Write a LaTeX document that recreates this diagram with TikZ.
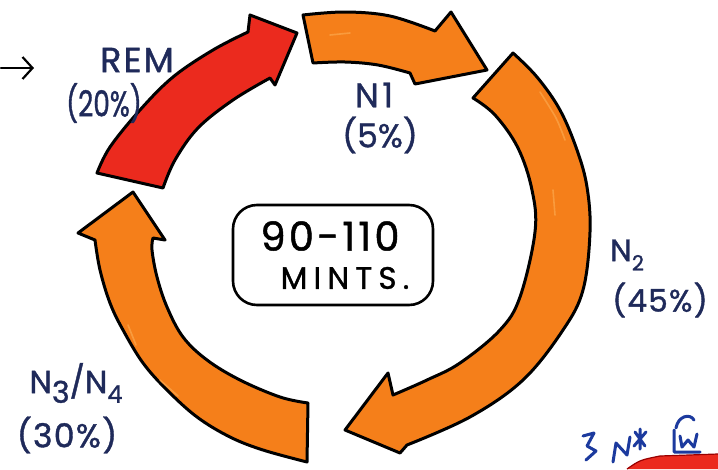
\documentclass[tikz,border=0pt]{standalone}
\usepackage{fontspec}
\setmainfont{Poppins}[FakeBold=1.2]
\usetikzlibrary{arrows.meta}

\definecolor{ink}{HTML}{1F2A5A}
\definecolor{pen}{HTML}{1C3A9E}
\definecolor{remred}{HTML}{EB2A1E}
\definecolor{stage}{HTML}{F57F1A}
\definecolor{glow}{HTML}{FBA54A}

\newcommand\handfont[1]{\fontsize{#1}{#1}\selectfont}
\newcommand\lowfig[2]{\raisebox{-0.3em}{\handfont{#1}#2}}

\tikzset{
  band/.style={draw=black, line width=3pt, line join=round, line cap=round},
  streak/.style={draw=glow, line width=1.6pt, line cap=round, opacity=0.75},
  lbl/.style={text=ink, inner sep=0pt},
  boxtext/.style={text=black, inner sep=0pt},
  scribble/.style={draw=pen, line width=3pt, line cap=round, line join=round},
}

\begin{document}
\begin{tikzpicture}[x=1pt,y=-1pt]
\useasboundingbox (0,0) rectangle (718,469);
\fill[white] (0,0) rectangle (718,469);

% REM stage (red)
\draw[band, fill=remred]
  plot[smooth,tension=0.6] coordinates {(97,173) (110,147) (140,110) (173,77) (213,50) (248,32)}
  -- (250,15) -- (297,33) -- (275,85) -- (270,78)
  -- plot[smooth,tension=0.6] coordinates {(270,78) (233,100) (198,128) (175,160) (163,188)}
  -- cycle;

% N1 stage
\draw[band, fill=stage]
  plot[smooth,tension=0.6] coordinates {(303,15) (345,12) (390,16) (435,31)}
  -- (451,12) -- (487,70) -- (415,84) -- (410,73)
  -- plot[smooth,tension=0.6] coordinates {(410,73) (378,65) (345,62) (313,63)}
  -- cycle;

% N2 stage
\draw[band, fill=stage]
  plot[smooth,tension=0.6] coordinates {(513,53) (537,77) (560,110) (577,150) (587,187) (590,232) (583,290) (563,330) (523,380) (470,417) (407,445)}
  -- (400,453) -- (345,430) -- (388,373) -- (393,395)
  -- plot[smooth,tension=0.6] coordinates {(393,395) (427,380) (460,363) (500,330) (520,297) (535,232) (532,190) (518,148) (495,115) (473,98)}
  -- cycle;

% N3/N4 stage
\draw[band, fill=stage]
  plot[smooth,tension=0.6] coordinates {(307,462) (263,450) (230,437) (197,417) (167,390) (143,363) (123,330) (110,303) (100,270) (95,240)}
  -- (78,233) -- (133,192) -- (165,240) -- (153,238)
  -- plot[smooth,tension=0.6] coordinates {(153,238) (152,250) (157,277) (167,307) (183,337) (207,360) (240,380) (280,397) (308,403)}
  -- cycle;

% marker highlights on the orange bands
\draw[streak] plot[smooth] coordinates {(540,92) (556,118) (565,140)};
\draw[streak] plot[smooth] coordinates {(553,190) (555,215)};
\draw[streak] plot[smooth] coordinates {(128,325) (136,345)};
\draw[streak] plot[smooth] coordinates {(160,380) (178,396)};
\draw[streak] plot[smooth] coordinates {(330,35) (350,33)};

% cycle length box
\node[draw, line width=2.6pt, rounded corners=24pt, minimum width=200pt, minimum height=100pt, inner sep=0pt] (span) at (333,255) {};
\node[boxtext] (spantime) at (330,236) {\addfontfeatures{LetterSpace=8}\handfont{40}90-110};
\node[boxtext] (spanunit) at (345,278) {\addfontfeatures{LetterSpace=20}\handfont{31}MINTS.};

% stage labels
\node[lbl] (remname) at (137,60) {\addfontfeatures{LetterSpace=6}\handfont{35}REM};
\node[lbl] (remshare) at (104,103) {\scalebox{0.85}[1.15]{\handfont{31}(20\%)}};
\node[lbl] (nonename) at (374,95) {\addfontfeatures{LetterSpace=10}\handfont{34}N1};
\node[lbl] (noneshare) at (380,135) {\handfont{33}(5\%)};
\node[lbl] (ntwoname) at (627,255) {\handfont{31}N\lowfig{21}{2}};
\node[lbl] (ntwoshare) at (660,300) {\addfontfeatures{LetterSpace=4}\handfont{31}(45\%)};
\node[lbl] (nthreename) at (76,383) {\handfont{32}N\lowfig{30}{3}/N\lowfig{24}{4}};
\node[lbl] (nthreeshare) at (67,435) {\addfontfeatures{LetterSpace=4}\handfont{33}(30\%)};

% small pointer at the left edge
\coordinate (ptrfrom) at (1,68);
\coordinate (ptrto) at (34,68);
\draw[line width=2.2pt, line cap=round, -{Straight Barb[length=10pt,width=22pt,line width=2.2pt]}] (ptrfrom) -- (ptrto);

% corner scribbles and red edge
\fill[remred] (627,469) .. controls (640,460) .. (660,456) -- (718,454) -- (718,469) -- cycle;
\draw[line width=1.2pt, red!60!black] (627,469) .. controls (640,460) .. (660,456) -- (718,454);
\draw[scribble] (583,436) -- (594,433) -- (587,446) -- (596,451) -- (586,460);
\draw[scribble] (613,462) -- (616,443) -- (627,455) -- (630,437);
\draw[scribble] (635,432) -- (645,446) (646,432) -- (634,446) (640,429) -- (640,449);
\draw[scribble] (676,428) .. controls (678,416) and (690,413) .. (694,420);
\draw[scribble] (674,430) -- (674,452) -- (700,452) (680,436) -- (682,447) -- (688,440) -- (694,447) -- (697,434);
\end{tikzpicture}
\end{document}
